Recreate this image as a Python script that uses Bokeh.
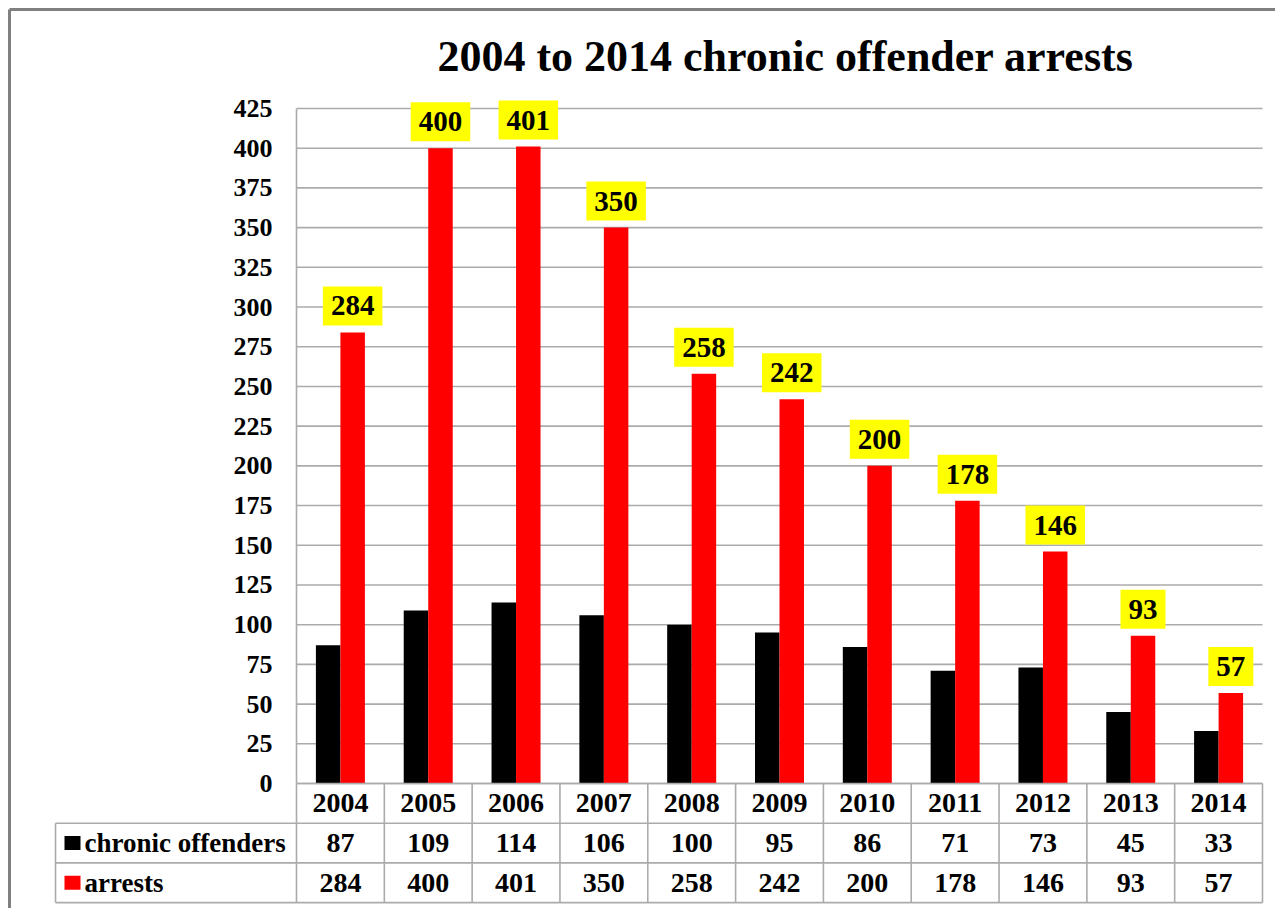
from bokeh.plotting import figure
from bokeh.models import Range1d
from bokeh.core.properties import value
from bokeh.embed import file_html
from bokeh.resources import INLINE

# ---------------- data ----------------
title_text = "2004 to 2014 chronic offender arrests"
years = ["2004", "2005", "2006", "2007", "2008", "2009", "2010", "2011", "2012", "2013", "2014"]
chronic = [87, 109, 114, 106, 100, 95, 86, 71, 73, 45, 33]
arrests = [284, 400, 401, 350, 258, 242, 200, 178, 146, 93, 57]
series_names = ["chronic offenders", "arrests"]
y_ticks = [0, 25, 50, 75, 100, 125, 150, 175, 200, 225, 250, 275, 300, 325, 350, 375, 400, 425]
y_max = 425

# ---------------- layout (page pixels) ----------------
W, H = 1275, 908          # figure size; page origin at (0, 0)
OX, OY = 0, 0
PL, PR = 296, 1262        # plot area left / right
PT, PB = 108, 783         # pixel of y_max / pixel of 0
ROW = 39.7                # table row height
LABEL_LEFT = 55           # left edge of the table's label column
FONT = value("Liberation Serif")
GRID = "#ababab"
RED = "#ff0000"
BLACK = "#000000"

n = len(years)
sx = (PR - PL) / n
sy = (PB - PT) / y_max
x_start = -(PL - OX) / sx
x_end = x_start + W / sx
y_end = (PB - OY) / sy
y_start = y_end - H / sy


def px_x(px):
    return (px - PL) / sx


def px_y(py):
    return (PB - py) / sy


p = figure(width=W, height=H, output_backend="svg", toolbar_location=None,
           x_range=Range1d(x_start, x_end), y_range=Range1d(y_start, y_end),
           min_border=0, background_fill_color="white", border_fill_color="white")
p.axis.visible = False
p.grid.visible = False
p.outline_line_color = None

# outer frame (left and top edges)
p.segment(x0=[px_x(9), px_x(9)], y0=[px_y(9), px_y(9)],
          x1=[px_x(9), x_end], y1=[y_start, px_y(9)],
          line_color="#808080", line_width=3)

# horizontal gridlines
p.segment(x0=[0] * len(y_ticks), x1=[n] * len(y_ticks), y0=y_ticks, y1=y_ticks,
          line_color=GRID, line_width=1.6)
# plot area left edge
p.segment(x0=[0], x1=[0], y0=[y_max], y1=[0], line_color=GRID, line_width=1.6)

# y tick labels
p.text(x=[0] * len(y_ticks), y=y_ticks, text=[str(t) for t in y_ticks],
       x_offset=-24, text_align="right", text_baseline="middle",
       text_font=FONT, text_font_style="bold", text_font_size="26px", text_color="black")

# bars
idx = list(range(n))
pair = 49 / sx
bw = pair / 2
x_black = [i + 0.5 - bw / 2 for i in idx]
x_red = [i + 0.5 + bw / 2 for i in idx]
p.vbar(x=x_black, top=chronic, bottom=0, width=bw, fill_color=BLACK, line_color=None)
p.vbar(x=x_red, top=arrests, bottom=0, width=bw, fill_color=RED, line_color=None)

# yellow value labels
p.text(x=x_red, y=arrests, text=[str(v) for v in arrests],
       y_offset=-7, text_align="center", text_baseline="bottom",
       text_font=FONT, text_font_style="bold", text_font_size="29px", text_color="black",
       background_fill_color="#ffff00", padding=(8, 10))

# ---------------- data table ----------------
r0 = 0
r1 = -ROW / sy
r2 = -2 * ROW / sy
r3 = -3 * ROW / sy
xl = px_x(LABEL_LEFT)
col_edges = list(range(n + 1))
# horizontal table lines
p.segment(x0=[0, xl, xl, xl], x1=[n, n, n, n], y0=[r0, r1, r2, r3], y1=[r0, r1, r2, r3],
          line_color=GRID, line_width=1.6)
# vertical lines
p.segment(x0=col_edges, x1=col_edges, y0=[r0] * (n + 1), y1=[r3] * (n + 1),
          line_color=GRID, line_width=1.6)
p.segment(x0=[xl], x1=[xl], y0=[r1], y1=[r3], line_color=GRID, line_width=1.6)

centers = [i + 0.5 for i in idx]
tsize = "28px"
p.text(x=centers, y=[(r0 + r1) / 2] * n, text=years, text_align="center", text_baseline="middle",
       text_font=FONT, text_font_style="bold", text_font_size=tsize, text_color="black")
p.text(x=centers, y=[(r1 + r2) / 2] * n, text=[str(v) for v in chronic], text_align="center",
       text_baseline="middle", text_font=FONT, text_font_style="bold", text_font_size=tsize,
       text_color="black")
p.text(x=centers, y=[(r2 + r3) / 2] * n, text=[str(v) for v in arrests], text_align="center",
       text_baseline="middle", text_font=FONT, text_font_style="bold", text_font_size=tsize,
       text_color="black")

# legend keys and series names
key_x = px_x(72)
p.rect(x=[key_x, key_x], y=[(r1 + r2) / 2, (r2 + r3) / 2], width=16, height=14,
       width_units="screen", height_units="screen", fill_color=[BLACK, RED], line_color=None)
p.text(x=[px_x(84), px_x(84)], y=[(r1 + r2) / 2, (r2 + r3) / 2], text=series_names,
       text_align="left", text_baseline="middle", text_font=FONT, text_font_style="bold",
       text_font_size="27px", text_color="black")

# title
p.text(x=[n / 2], y=[px_y(56)], text=[title_text], x_offset=6, text_align="center",
       text_baseline="alphabetic", text_font=FONT, text_font_style="bold",
       text_font_size="44px", text_color="black")

open("out.html", "w").write(file_html(p, INLINE))
